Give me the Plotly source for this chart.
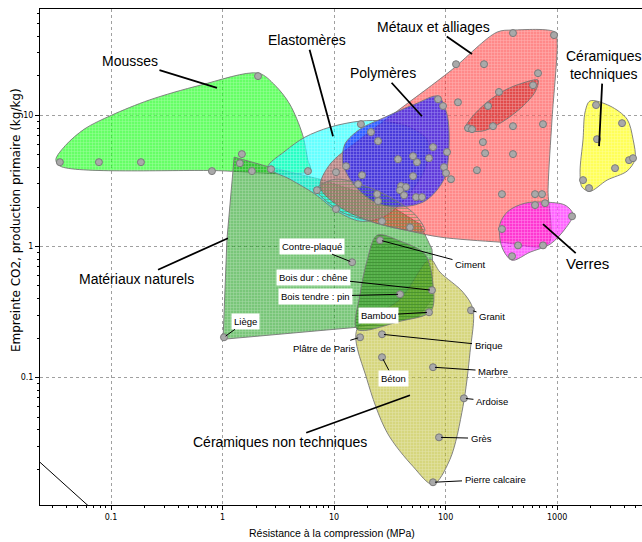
import math
import plotly.graph_objects as go

# ---------------- DATA (compressive strength MPa, CO2 footprint kg/kg) -------------
mousses_x = [0.032, 0.039, 0.058, 0.10, 0.22, 0.63, 2.1, 2.95, 4.0, 5.2, 5.8, 6.1, 0.80, 0.035, 0.032]
mousses_y = [4.6, 5.9, 7.9, 10.0, 13.1, 17.0, 21.0, 17.0, 12.2, 7.2, 4.6, 3.8, 3.8, 4.1, 4.6]

naturels_x = [1.27, 2.66, 7.47, 25.8, 58.9, 75.5, 77.1, 75.5, 56.6, 16.05, 1.01, 1.095, 1.27]
naturels_y = [4.81, 4.03, 3.26, 2.30, 1.48, 0.954, 0.671, 0.396, 0.289, 0.242, 0.196, 1.137, 4.81]

bois_fibre_x = [7.0, 10.2, 17.1, 31.7, 53.0, 65.0, 39.0, 21.0, 11.3, 7.0]
bois_fibre_y = [2.74, 3.26, 2.99, 2.38, 1.76, 1.31, 1.36, 1.56, 1.86, 2.74]

elasto_x = [2.55, 3.63, 5.48, 9.19, 17.1, 28.6, 47.9, 69.5, 65.3, 43.2, 27.5, 17.1, 10.6, 6.74, 4.02, 2.55]
elasto_y = [4.03, 5.34, 6.83, 8.14, 9.05, 9.05, 8.14, 6.37, 3.89, 2.30, 1.67, 1.56, 1.86, 2.51, 3.26, 4.03]

metaux_x = [289, 402, 958, 1000, 900, 829, 829, 307, 89, 48, 21, 11.3, 7.5, 9.2, 17.1, 39, 110, 289]
metaux_y = [43.2, 44.8, 43.2, 36.9, 9.37, 2.74, 1.04, 1.08, 1.18, 1.31, 1.56, 2.0, 2.84, 4.25, 6.59, 11.2, 21.8, 43.2]

aciers_x = [149, 172, 235, 341, 484, 674, 634, 484, 320, 212, 149]
aciers_y = [7.86, 9.70, 12.6, 15.6, 17.6, 18.6, 15.1, 11.6, 8.89, 7.59, 7.86]

polym_x = [85.5, 103, 107, 96.8, 65.3, 36.7, 23.3, 15.7, 12.0, 12.5, 17.1, 28.6, 53.2, 85.5]
polym_y = [14.0, 10.2, 5.53, 3.26, 2.22, 2.0, 2.18, 2.84, 4.25, 6.04, 7.86, 9.70, 12.2, 14.0]

cnt_x = [16.05, 19.7, 29.8, 51.0, 77.1, 109.5, 143.3, 165.5, 176.1, 143.3, 89.1, 72.5, 39.0, 16.05]
cnt_y = [0.234, 0.097, 0.0382, 0.021, 0.0153, 0.0238, 0.0604, 0.156, 0.332, 0.448, 0.637, 0.80, 0.396, 0.234]

bois_x = [24.3, 39.0, 65.3, 77.1, 74.0, 39.0, 16.05, 17.1, 19.7, 24.3]
bois_y = [1.22, 1.10, 0.873, 0.516, 0.321, 0.269, 0.234, 0.432, 0.772, 1.22]

verres_x = [307, 363, 515, 779, 1177, 1389, 1177, 864, 571, 394, 320, 307]
verres_y = [1.48, 1.86, 2.14, 2.18, 2.07, 1.76, 1.36, 1.04, 0.905, 0.786, 0.988, 1.48]

ctech_x = [1973, 2982, 4236, 4794, 4996, 4236, 2803, 1973, 1672, 1605, 1708, 1780, 1973]
ctech_y = [12.9, 11.8, 9.37, 6.59, 4.64, 3.76, 3.21, 2.64, 2.84, 3.69, 6.59, 10.6, 12.9]

# unlabeled material data points
pts_x = [0.0348, 0.0779, 0.1854, 0.803, 2.08, 1.49, 1.43, 1.835, 2.72, 5.83,
         17.4, 21.4, 24.8, 12.8, 10.4, 17.8, 16.4, 7.02, 10.4, 24.3, 24.8, 26.9, 47.9,
         37.4, 51.0, 55.4, 71.0, 77.1, 51.0, 39.8, 44.1, 39.0, 42.4, 54.3, 61.4,
         85.5, 94.8, 103, 96.8, 100.8, 111.8,
         129, 124, 221, 674, 608, 301, 240, 159, 172.5, 266, 402, 747, 216, 226, 402, 191,
         320, 634, 732, 402, 938,
         634, 779, 1360, 320, 446, 747, 394,
         2233, 3820, 2280, 4414, 4794, 3306, 1708, 1932]
pts_y = [4.40, 4.40, 4.40, 3.76, 19.95, 5.07, 4.32, 3.76, 3.89, 3.76,
         8.58, 7.46, 6.37, 4.10, 3.69, 3.50, 2.99, 2.69, 1.93, 2.51, 2.22, 1.56, 1.40,
         4.64, 4.89, 4.40, 4.72, 5.73, 3.44, 2.89, 2.84, 2.69, 2.46, 2.38, 2.38,
         13.3, 11.8, 5.25, 4.03, 3.63, 3.26,
         12.6, 24.6, 24.6, 21.0, 17.0, 15.1, 11.8, 8.0, 7.86, 8.28, 8.28, 8.58, 6.26, 5.15, 5.07, 3.82,
         2.51, 2.51, 2.51, 42.5, 41.0,
         2.07, 2.14, 1.70, 1.36, 1.02, 1.02, 0.843,
         12.0, 8.73, 6.59, 4.56, 4.72, 3.96, 3.21, 2.79]

# labeled materials
mat_names = ["Contre-plaqué", "Ciment", "Bois dur : chêne", "Bois tendre : pin", "Bambou",
             "Liège", "Plâtre de Paris", "Brique", "Béton", "Granit", "Marbre",
             "Ardoise", "Grès", "Pierre calcaire"]
mat_x = [14.5, 25.8, 75.5, 39.0, 71.0, 1.03, 17.1, 26.9, 26.9, 169, 77.1, 146, 87.3, 77.1]
mat_y = [0.759, 1.117, 0.464, 0.432, 0.315, 0.203, 0.203, 0.214, 0.143, 0.326, 0.120,
         0.0695, 0.035, 0.0159]

# family labels and the point their leader line reaches
fam_names = ["Mousses", "Elastomères", "Polymères", "Métaux et alliages",
             "Céramiques<br>techniques", "Verres", "Matériaux naturels",
             "Céramiques non techniques"]
fam_x = [0.891, 9.78, 61.4, 172.5, 2376, 747, 1.118, 47.9]
fam_y = [16.2, 6.95, 9.86, 29.4, 5.83, 1.48, 1.157, 0.0733]

guide_x = [0.02, 0.08]
guide_y = [0.0252, 0.0087]

x_ticks = [0.1, 1, 10, 100, 1000]
x_ticktext = ["0.1", "1", "10", "100", "1000"]
y_ticks = [0.1, 1, 10]
y_ticktext = ["0.1", "1", "10"]

x_title = "Résistance à la compression (MPa)"
y_title = "Empreinte CO2, production primaire (kg/kg)"

# ---------------- STYLE ----------------
LABEL_FONT = "Liberation Sans, Arial, sans-serif"
fam_offsets = [(-87, -27), (-26, -96), (-39, -43), (-39, -27), (4, -81), (44, 39),
               (-91, 41), (-130, 47)]
fam_sizes = [14, 14, 14, 14, 14, 15, 14, 14]
mat_offsets = [(-40, -16), (90, 24), (-119, -13), (-85, 2), (-51, 3), (22, -16), (-36, 11),
               (106, 11), (11, 21), (21, 6), (60, 4), (28, 3), (42, 1), (62, -3)]
mat_bg = [True, False, True, True, True, True, False, False, True, False, False, False,
          False, False]

fig = go.Figure()


def region(xs, ys, bg, fg, shape="+", smooth=True):
    fig.add_trace(go.Scatter(
        x=xs, y=ys, mode="lines", fill="toself",
        line=dict(color="rgba(120,120,120,0.9)", width=1,
                  shape="spline" if smooth else "linear", smoothing=0.9),
        fillcolor=bg,
        fillpattern=dict(shape=shape, bgcolor=bg, fgcolor=fg, size=3, solidity=0.3),
        hoverinfo="skip", showlegend=False))


W = "rgba(255,255,255,0.7)"
region(mousses_x, mousses_y, "rgba(0,255,0,0.6)", W)
region(naturels_x, naturels_y, "rgba(10,150,10,0.55)", W, smooth=False)
region(elasto_x, elasto_y, "rgba(0,255,255,0.6)", W)
region(metaux_x, metaux_y, "rgba(255,20,20,0.5)", W)
region(aciers_x, aciers_y, "rgba(190,0,0,0.45)", W)
region(polym_x, polym_y, "rgba(20,20,255,0.68)", W)
region(bois_fibre_x, bois_fibre_y, "rgba(0,0,0,0)", "rgba(30,120,30,0.8)", shape="-")
region(cnt_x, cnt_y, "rgba(180,180,20,0.55)", W)
region(bois_x, bois_y, "rgba(60,160,40,0.6)", "rgba(20,100,10,0.85)", shape="-")
region(verres_x, verres_y, "rgba(255,0,255,0.6)", W)
region(ctech_x, ctech_y, "rgba(255,255,0,0.65)", W)

fig.add_trace(go.Scatter(x=guide_x, y=guide_y, mode="lines",
                         line=dict(color="black", width=1), showlegend=False, hoverinfo="skip"))

marker = dict(size=7, color="#a9a9a9", line=dict(color="#7a7a7a", width=1))
fig.add_trace(go.Scatter(x=pts_x, y=pts_y, mode="markers", marker=marker,
                         showlegend=False, hoverinfo="skip"))
fig.add_trace(go.Scatter(x=mat_x, y=mat_y, mode="markers", marker=marker,
                         showlegend=False, hoverinfo="skip"))

annotations = []
for name, x, y, (ax, ay), fs in zip(fam_names, fam_x, fam_y, fam_offsets, fam_sizes):
    annotations.append(dict(x=math.log10(x), y=math.log10(y), xref="x", yref="y",
                            text=name, showarrow=True, arrowhead=0, arrowwidth=1.8,
                            arrowcolor="black", ax=ax, ay=ay, standoff=0,
                            font=dict(family=LABEL_FONT, size=fs, color="black")))
for name, x, y, (ax, ay), bg in zip(mat_names, mat_x, mat_y, mat_offsets, mat_bg):
    annotations.append(dict(x=math.log10(x), y=math.log10(y), xref="x", yref="y",
                            text=name, showarrow=True, arrowhead=0, arrowwidth=1,
                            arrowcolor="black", ax=ax, ay=ay, standoff=2,
                            bgcolor="white" if bg else None, borderpad=2,
                            font=dict(family=LABEL_FONT, size=9.5, color="black")))
# axis titles
annotations.append(dict(text=x_title, xref="paper", yref="paper", x=0.485, y=-0.0565,
                        showarrow=False, xanchor="center", yanchor="middle",
                        font=dict(family=LABEL_FONT, size=10.5, color="black")))
annotations.append(dict(text=y_title, xref="paper", yref="paper", x=-0.041, y=0.575,
                        showarrow=False, xanchor="center", yanchor="middle", textangle=-90,
                        font=dict(family="DejaVu Sans", size=12, color="black")))

minor_x = [m * 10 ** e for e in range(-2, 4) for m in range(2, 10)]
minor_y = [m * 10 ** e for e in range(-2, 2) for m in range(2, 10)]

fig.update_layout(
    width=642, height=542,
    margin=dict(l=40, r=0, t=9, b=37),
    plot_bgcolor="white", paper_bgcolor="white",
    annotations=annotations,
    xaxis=dict(type="log", range=[-1.637, 3.761], tickvals=x_ticks, ticktext=x_ticktext,
               showgrid=True, gridcolor="#a0a0a0", griddash="dot", gridwidth=1,
               showline=True, linecolor="black", linewidth=1, mirror=True,
               ticks="outside", ticklen=4, tickcolor="black",
               minor=dict(tickvals=minor_x, ticks="outside", ticklen=2, tickcolor="black",
                          showgrid=False),
               tickfont=dict(family="DejaVu Sans", size=8, color="black"),
               zeroline=False, automargin=False),
    yaxis=dict(type="log", range=[-1.972, 1.812], tickvals=y_ticks, ticktext=y_ticktext,
               showgrid=True, gridcolor="#a0a0a0", griddash="dot", gridwidth=1,
               showline=True, linecolor="black", linewidth=1,
               ticks="outside", ticklen=4, tickcolor="black",
               minor=dict(tickvals=minor_y, ticks="outside", ticklen=2, tickcolor="black",
                          showgrid=False),
               tickfont=dict(family="DejaVu Sans", size=8, color="black"),
               zeroline=False, automargin=False),
)

fig.write_html("out.html")
